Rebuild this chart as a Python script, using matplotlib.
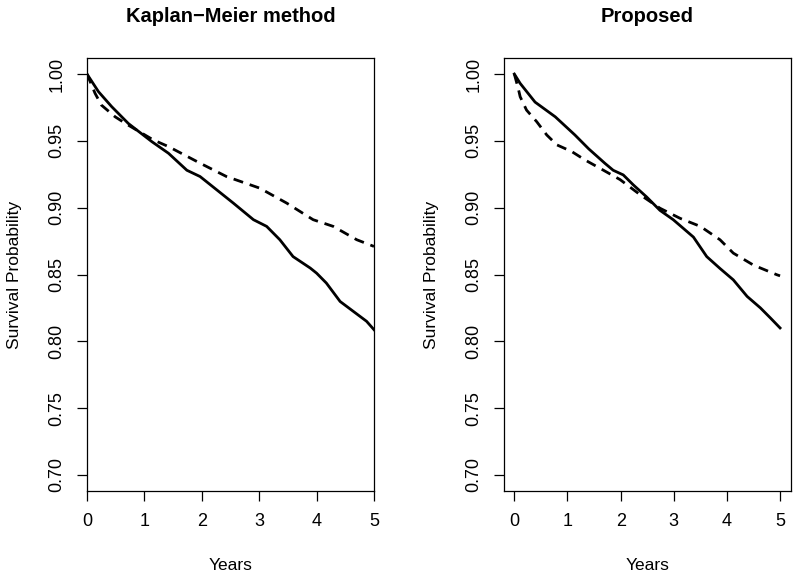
import matplotlib
matplotlib.use("Agg")
import matplotlib.pyplot as plt

plt.rcParams['font.family'] = ['Liberation Sans', 'DejaVu Sans']

# Kaplan-Meier panel
km_t_solid = [0, 0.20, 0.43, 0.72, 1.13, 1.42, 1.74, 1.97, 2.55, 2.90, 3.13, 3.36, 3.59, 3.89, 4.0, 4.17, 4.41, 4.64, 4.87, 5.0]
km_s_solid = [1.0, 0.9868, 0.9756, 0.963, 0.9494, 0.9407, 0.928, 0.9233, 0.9034, 0.891, 0.886, 0.876, 0.8634, 0.8548, 0.851, 0.8436, 0.8298, 0.8224, 0.815, 0.8087]
km_t_dash = [0, 0.08, 0.14, 0.25, 0.49, 0.69, 1.155, 1.42, 1.97, 2.43, 3.01, 3.48, 3.94, 4.29, 4.70, 5.0]
km_s_dash = [1.0, 0.9918, 0.9856, 0.9768, 0.968, 0.9625, 0.9507, 0.9457, 0.9333, 0.9233, 0.9146, 0.9034, 0.891, 0.886, 0.876, 0.871]

# Proposed panel
pr_t_solid = [0, 0.11, 0.39, 0.77, 1.14, 1.40, 1.71, 1.86, 2.05, 2.24, 2.49, 2.74, 2.99, 3.37, 3.62, 3.87, 4.12, 4.38, 4.63, 4.82, 5.0]
pr_s_solid = [1.0, 0.993, 0.979, 0.968, 0.9544, 0.944, 0.933, 0.928, 0.9245, 0.917, 0.908, 0.898, 0.891, 0.878, 0.8634, 0.8545, 0.846, 0.8336, 0.825, 0.8174, 0.81]
pr_t_dash = [0, 0.075, 0.11, 0.23, 0.42, 0.61, 0.80, 1.08, 1.33, 1.61, 1.99, 2.37, 2.74, 3.12, 3.50, 3.87, 4.12, 4.50, 4.94, 5.0]
pr_s_dash = [1.0, 0.989, 0.983, 0.973, 0.9644, 0.9544, 0.947, 0.942, 0.9357, 0.9295, 0.921, 0.9096, 0.8996, 0.892, 0.886, 0.876, 0.866, 0.857, 0.8498, 0.849]

yticks = [0.70, 0.75, 0.80, 0.85, 0.90, 0.95, 1.00]
xticks = [0, 1, 2, 3, 4, 5]

W, H = 800, 579
fig = plt.figure(figsize=(8, 5.79), dpi=100)
ax1 = fig.add_axes([87 / W, (H - 491) / H, 287 / W, 433 / H])
ax2 = fig.add_axes([503.7 / W, (H - 491) / H, 287 / W, 433 / H])

panels = [
    (ax1, "Kaplan\u2212Meier method", (0, 5), km_t_solid, km_s_solid, km_t_dash, km_s_dash),
    (ax2, "Proposed", (-0.2, 5.2), pr_t_solid, pr_s_solid, pr_t_dash, pr_s_dash),
]

for ax, title, xl, ts, ss, td, sd in panels:
    ax.plot(ts, ss, color='black', lw=2.0, solid_joinstyle='round')
    ax.plot(td, sd, color='black', lw=2.0, dashes=(3.6, 2.5))
    ax.set_xlim(*xl)
    ax.set_ylim(0.688, 1.012)
    ax.set_xticks(xticks)
    ax.set_yticks(yticks)
    ax.set_yticklabels(["%.2f" % v for v in yticks])
    ax.tick_params(direction='out', length=7.5, width=0.9, labelsize=13, pad=8)
    plt.setp(ax.get_yticklabels(), rotation=90, va='center')
    for sp in ax.spines.values():
        sp.set_linewidth(0.9)
    ax.set_xlabel("Years", fontsize=12.5, va='center')
    ax.xaxis.set_label_coords(0.5, -74 / 433)
    ax.set_ylabel("Survival Probability", fontsize=12.5, va='center')
    ax.yaxis.set_label_coords(-72 / 287, 0.5)
    ax.set_title(title, fontsize=14.5, fontweight='bold', y=1 + 42 / 433, va='center', pad=0)

fig.savefig("out.png", dpi=100)
